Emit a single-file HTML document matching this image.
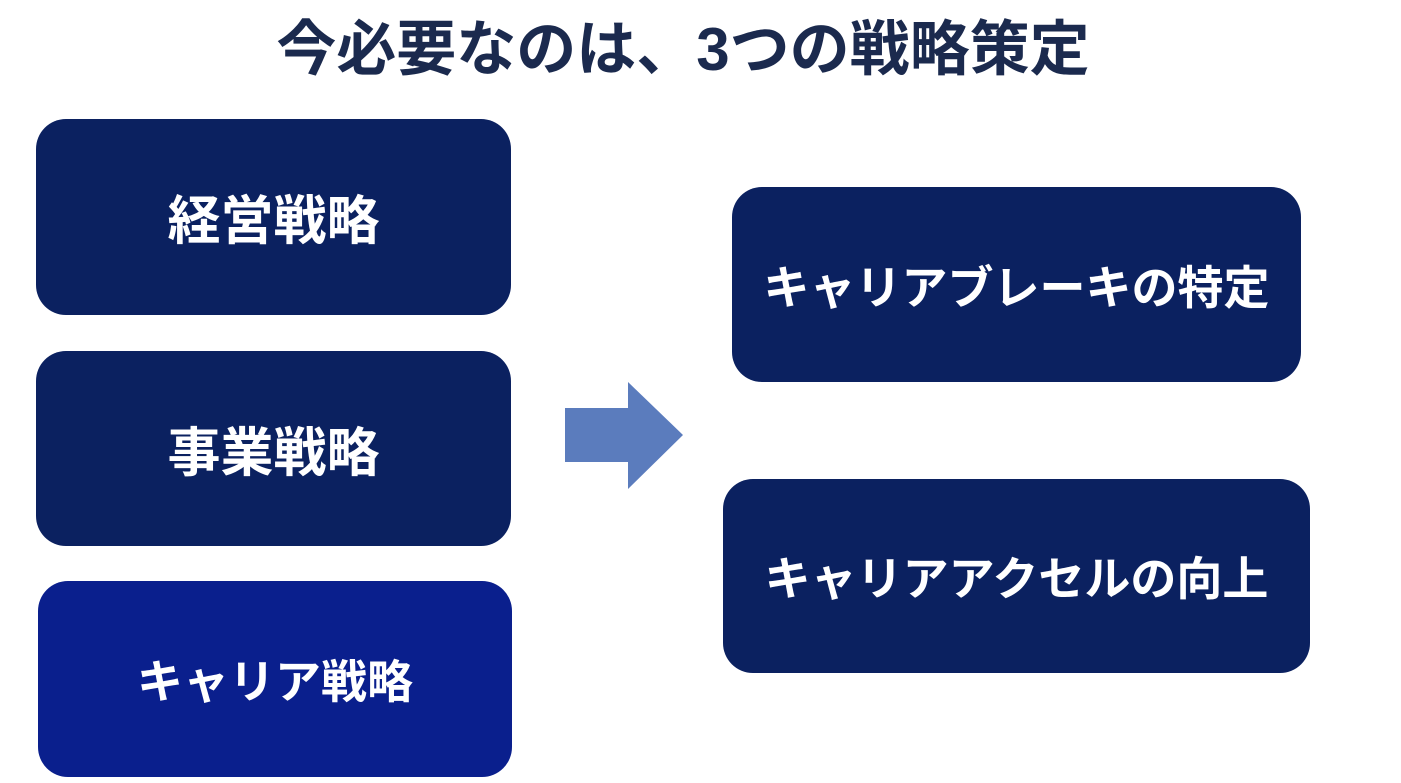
<!DOCTYPE html>
<html><head><meta charset="utf-8"><style>
body{margin:0;width:1401px;height:783px;background:#fff;position:relative;overflow:hidden;font-family:"Liberation Sans","Noto Sans CJK JP",sans-serif;}
.t{position:absolute;left:0;top:14px;width:1366px;text-align:center;font-size:60px;font-weight:bold;color:#1b2a4e;line-height:72px;}
.b{position:absolute;box-sizing:border-box;background:#0b2160;border-radius:30px;color:#fff;font-weight:bold;font-size:46px;display:flex;align-items:center;justify-content:center;}
.k{font-size:53px;}
</style></head><body>
<div class="t">今必要なのは、3つの戦略策定</div>
<div class="b k" style="left:36px;top:119px;width:475px;height:196px;">経営戦略</div>
<div class="b k" style="left:36px;top:351px;width:475px;height:195px;">事業戦略</div>
<div class="b" style="left:38px;top:581px;width:474px;height:196px;background:#0a1f8d;">キャリア戦略</div>
<div class="b" style="left:732px;top:187px;width:569px;height:195px;">キャリアブレーキの特定</div>
<div class="b" style="left:723px;top:479px;width:587px;height:194px;">キャリアアクセルの向上</div>
<svg style="position:absolute;left:0;top:0" width="1401" height="783"><polygon points="565,408 628,408 628,382 683,435 628,489 628,462 565,462" fill="#5b7cbd"/></svg>
</body></html>
